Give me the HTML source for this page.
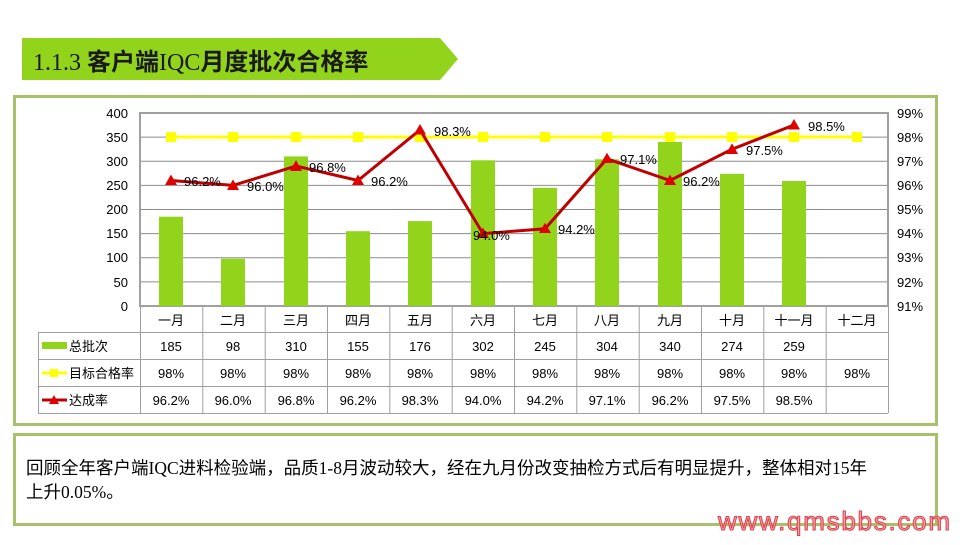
<!DOCTYPE html>
<html><head><meta charset="utf-8"><style>
body{margin:0;width:960px;height:540px;background:#fff;overflow:hidden;font-family:"Liberation Sans","Noto Sans CJK SC",sans-serif}
svg text{font-family:"Liberation Sans","Noto Sans CJK SC",sans-serif}
.sf{font-family:"Liberation Serif","Noto Serif CJK SC",serif !important;font-weight:normal}
</style></head><body>
<svg width="960" height="540" viewBox="0 0 960 540" xmlns="http://www.w3.org/2000/svg">
<polygon points="22,38 440,38 458,59 440,80 22,80" fill="#92d41c"/>
<text x="33" y="70" font-size="24" font-weight="bold" fill="#1a1a1a"><tspan class="sf">1.1.3 </tspan>客户端<tspan class="sf">IQC</tspan>月度批次合格率</text>
<rect x="14.5" y="96.5" width="922" height="328" fill="none" stroke="#a6c16a" stroke-width="3"/>
<rect x="14.5" y="434.5" width="922" height="90" fill="none" stroke="#a6c16a" stroke-width="3"/>
<g stroke="#8c8c8c" stroke-width="1">
<line x1="140" y1="137.1" x2="888" y2="137.1"/><line x1="140" y1="161.2" x2="888" y2="161.2"/>
<line x1="140" y1="185.4" x2="888" y2="185.4"/><line x1="140" y1="209.5" x2="888" y2="209.5"/>
<line x1="140" y1="233.6" x2="888" y2="233.6"/><line x1="140" y1="257.8" x2="888" y2="257.8"/>
<line x1="140" y1="281.9" x2="888" y2="281.9"/>
</g>
<rect x="140" y="113" width="748" height="193" fill="none" stroke="#a0a0a0" stroke-width="2"/>
<g font-size="13" fill="#000" text-anchor="end">
<text x="128" y="118">400</text><text x="128" y="142">350</text><text x="128" y="166">300</text><text x="128" y="190">250</text><text x="128" y="214">200</text><text x="128" y="238">150</text><text x="128" y="262">100</text><text x="128" y="287">50</text><text x="128" y="311">0</text>
</g>
<g font-size="13" fill="#000">
<text x="897" y="118">99%</text><text x="897" y="142">98%</text><text x="897" y="166">97%</text><text x="897" y="190">96%</text><text x="897" y="214">95%</text><text x="897" y="238">94%</text><text x="897" y="262">93%</text><text x="897" y="287">92%</text><text x="897" y="311">91%</text>
</g>
<g fill="#92d41c">
<rect x="159" y="216.7" width="24" height="89.3"/>
<rect x="221" y="258.7" width="24" height="47.3"/>
<rect x="284" y="156.4" width="24" height="149.6"/>
<rect x="346" y="231.2" width="24" height="74.8"/>
<rect x="408" y="221.1" width="24" height="84.9"/>
<rect x="471" y="160.3" width="24" height="145.7"/>
<rect x="533" y="187.8" width="24" height="118.2"/>
<rect x="595" y="159.3" width="24" height="146.7"/>
<rect x="658" y="142" width="24" height="164"/>
<rect x="720" y="173.8" width="24" height="132.2"/>
<rect x="782" y="181" width="24" height="125"/>
</g>
<polyline points="171,137 233,137 296,137 358,137 420,137 483,137 545,137 607,137 670,137 732,137 794,137 857,137" fill="none" stroke="#ffff00" stroke-width="3"/>
<g fill="#ffff00">
<rect x="166" y="132" width="10" height="10"/><rect x="228" y="132" width="10" height="10"/><rect x="291" y="132" width="10" height="10"/><rect x="353" y="132" width="10" height="10"/><rect x="415" y="132" width="10" height="10"/><rect x="478" y="132" width="10" height="10"/><rect x="540" y="132" width="10" height="10"/><rect x="602" y="132" width="10" height="10"/><rect x="665" y="132" width="10" height="10"/><rect x="727" y="132" width="10" height="10"/><rect x="789" y="132" width="10" height="10"/><rect x="852" y="132" width="10" height="10"/>
</g>
<polyline points="171,180.5 233,185.4 296,166.1 358,180.5 420,129.9 483,233.6 545,228.8 607,158.8 670,180.5 732,149.2 794,125.0" fill="none" stroke="#c00000" stroke-width="3"/>
<g fill="#e00000">
<polygon points="171,174.5 177,185 165,185"/><polygon points="233,179.4 239,190 227,190"/><polygon points="296,160 302,171 290,171"/><polygon points="358,174.5 364,185 352,185"/><polygon points="420,124 426,134.5 414,134.5"/><polygon points="483,227.6 489,238 477,238"/><polygon points="545,222.8 551,233 539,233"/><polygon points="607,152.8 613,163 601,163"/><polygon points="670,174.5 676,185 664,185"/><polygon points="732,143.2 738,154 726,154"/><polygon points="794,119 800,129.5 788,129.5"/>
</g>
<g font-size="13" fill="#000">
<text x="184" y="186">96.2%</text><text x="247" y="191">96.0%</text><text x="309" y="172">96.8%</text><text x="371" y="186">96.2%</text><text x="434" y="136">98.3%</text><text x="473" y="240">94.0%</text><text x="558" y="234">94.2%</text><text x="620" y="164">97.1%</text><text x="683" y="186">96.2%</text><text x="746" y="155">97.5%</text><text x="808" y="131">98.5%</text>
</g>
<g stroke="#a0a0a0" stroke-width="1" fill="none">
<line x1="140" y1="332.5" x2="888" y2="332.5"/>
<line x1="38" y1="332.5" x2="140" y2="332.5"/>
<line x1="38" y1="359.5" x2="888" y2="359.5"/>
<line x1="38" y1="386.5" x2="888" y2="386.5"/>
<line x1="38" y1="413.5" x2="888" y2="413.5"/>
<line x1="38.5" y1="332" x2="38.5" y2="413"/>
<line x1="140.5" y1="306" x2="140.5" y2="413"/>
<line x1="202.8" y1="306" x2="202.8" y2="413"/><line x1="265.2" y1="306" x2="265.2" y2="413"/><line x1="327.5" y1="306" x2="327.5" y2="413"/><line x1="389.8" y1="306" x2="389.8" y2="413"/><line x1="452.2" y1="306" x2="452.2" y2="413"/><line x1="514.5" y1="306" x2="514.5" y2="413"/><line x1="576.8" y1="306" x2="576.8" y2="413"/><line x1="639.2" y1="306" x2="639.2" y2="413"/><line x1="701.5" y1="306" x2="701.5" y2="413"/><line x1="763.8" y1="306" x2="763.8" y2="413"/><line x1="826.2" y1="306" x2="826.2" y2="413"/><line x1="888.5" y1="306" x2="888.5" y2="413"/>
</g>
<g font-size="13" fill="#000" text-anchor="middle">
<text x="171" y="325">一月</text><text x="233" y="325">二月</text><text x="296" y="325">三月</text><text x="358" y="325">四月</text><text x="420" y="325">五月</text><text x="483" y="325">六月</text><text x="545" y="325">七月</text><text x="607" y="325">八月</text><text x="670" y="325">九月</text><text x="732" y="325">十月</text><text x="794" y="325">十一月</text><text x="857" y="325">十二月</text>
<text x="171" y="351">185</text><text x="233" y="351">98</text><text x="296" y="351">310</text><text x="358" y="351">155</text><text x="420" y="351">176</text><text x="483" y="351">302</text><text x="545" y="351">245</text><text x="607" y="351">304</text><text x="670" y="351">340</text><text x="732" y="351">274</text><text x="794" y="351">259</text>
<text x="171" y="378">98%</text><text x="233" y="378">98%</text><text x="296" y="378">98%</text><text x="358" y="378">98%</text><text x="420" y="378">98%</text><text x="483" y="378">98%</text><text x="545" y="378">98%</text><text x="607" y="378">98%</text><text x="670" y="378">98%</text><text x="732" y="378">98%</text><text x="794" y="378">98%</text><text x="857" y="378">98%</text>
<text x="171" y="405">96.2%</text><text x="233" y="405">96.0%</text><text x="296" y="405">96.8%</text><text x="358" y="405">96.2%</text><text x="420" y="405">98.3%</text><text x="483" y="405">94.0%</text><text x="545" y="405">94.2%</text><text x="607" y="405">97.1%</text><text x="670" y="405">96.2%</text><text x="732" y="405">97.5%</text><text x="794" y="405">98.5%</text>
</g>
<rect x="42" y="342" width="25" height="7" fill="#92d41c"/>
<line x1="42" y1="373" x2="67" y2="373" stroke="#ffff00" stroke-width="3"/><rect x="50" y="369" width="8" height="8" fill="#ffff00"/>
<line x1="42" y1="400" x2="67" y2="400" stroke="#c00000" stroke-width="3"/><polygon points="54,395 59,404 49,404" fill="#e00000"/>
<g font-size="13" fill="#000">
<text x="69" y="351">总批次</text><text x="69" y="378">目标合格率</text><text x="69" y="405">达成率</text>
</g>
<text x="26" y="474" font-size="17.5" fill="#000">回顾全年客户端<tspan class="sf">IQC</tspan>进料检验端，品质<tspan class="sf">1-8</tspan>月波动较大，经在九月份改变抽检方式后有明显提升，整体相对<tspan class="sf">15</tspan>年</text>
<text x="26" y="498" font-size="17.5" fill="#000">上升<tspan class="sf">0.05%</tspan>。</text>
<text x="718" y="530" font-size="26" fill="#f4a0a8" stroke="#e0404a" stroke-width="1" textLength="232">www.qmsbbs.com</text>
</svg>
</body></html>
